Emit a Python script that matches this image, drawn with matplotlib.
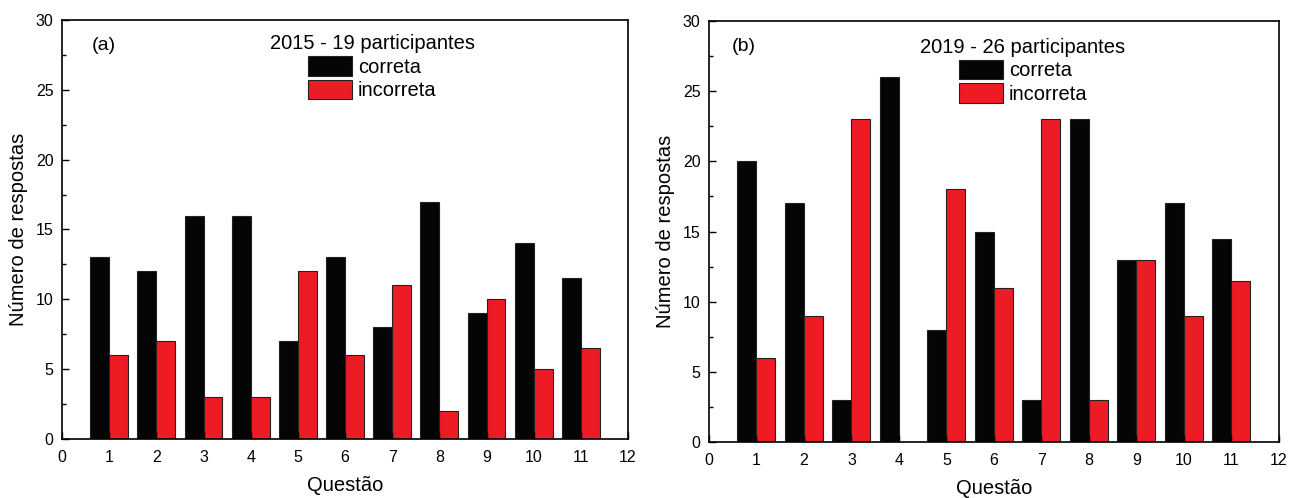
import numpy as np
import matplotlib.pyplot as plt
from matplotlib.ticker import MultipleLocator

plt.rcParams['font.family'] = ['Liberation Sans', 'DejaVu Sans']

questoes = np.arange(1, 12)
correta_2015 = [13, 12, 16, 16, 7, 13, 8, 17, 9, 14, 11.5]
incorreta_2015 = [6, 7, 3, 3, 12, 6, 11, 2, 10, 5, 6.5]
correta_2019 = [20, 17, 3, 26, 8, 15, 3, 23, 13, 17, 14.5]
incorreta_2019 = [6, 9, 23, 0, 18, 11, 23, 3, 13, 9, 11.5]

black = '#050505'
red = '#ED1C24'
w = 0.4

fig = plt.figure(figsize=(12.89, 4.98), dpi=100)
ax1 = fig.add_axes([0.0481, 0.1185, 0.4391, 0.8414])
ax2 = fig.add_axes([0.5500, 0.1124, 0.4422, 0.8454])


def draw(ax, cor, inc, tag, tag_x, title, leg_x, leg_y):
    ax.bar(questoes - w / 2, cor, w, color=black, edgecolor='#222222',
           linewidth=0.8, label='correta')
    ax.bar(questoes + w / 2, inc, w, color=red, edgecolor='#222222',
           linewidth=0.8, label='incorreta')
    ax.set_xlim(0, 12)
    ax.set_ylim(0, 30)
    ax.xaxis.set_major_locator(MultipleLocator(1))
    ax.yaxis.set_major_locator(MultipleLocator(5))
    ax.yaxis.set_minor_locator(MultipleLocator(2.5))
    ax.tick_params(which='both', direction='in', labelsize=11.5, width=1)
    ax.tick_params(which='major', length=5)
    ax.tick_params(which='minor', length=3)
    ax.tick_params(axis='x', pad=8)
    ax.tick_params(axis='y', pad=6)
    for s in ax.spines.values():
        s.set_linewidth(1.2)
    ax.set_xlabel('Questão', fontsize=14.5, labelpad=8)
    ax.set_ylabel('Número de respostas', fontsize=14.5, labelpad=6)
    ax.text(tag_x, 0.94, tag, transform=ax.transAxes, fontsize=14,
            va='center', ha='left')
    ax.legend(loc='upper center', bbox_to_anchor=(leg_x, leg_y),
              title=title, title_fontsize=14.5, fontsize=14.5,
              frameon=False, alignment='center', handlelength=2.2,
              handleheight=1.1, handletextpad=0.3, labelspacing=0.15,
              borderaxespad=0, borderpad=0)


draw(ax1, correta_2015, incorreta_2015, '(a)', 0.053,
     '2015 - 19 participantes', 0.548, 0.966)
draw(ax2, correta_2019, incorreta_2019, '(b)', 0.04,
     '2019 - 26 participantes', 0.551, 0.96)

fig.savefig('out.png', dpi=100)
